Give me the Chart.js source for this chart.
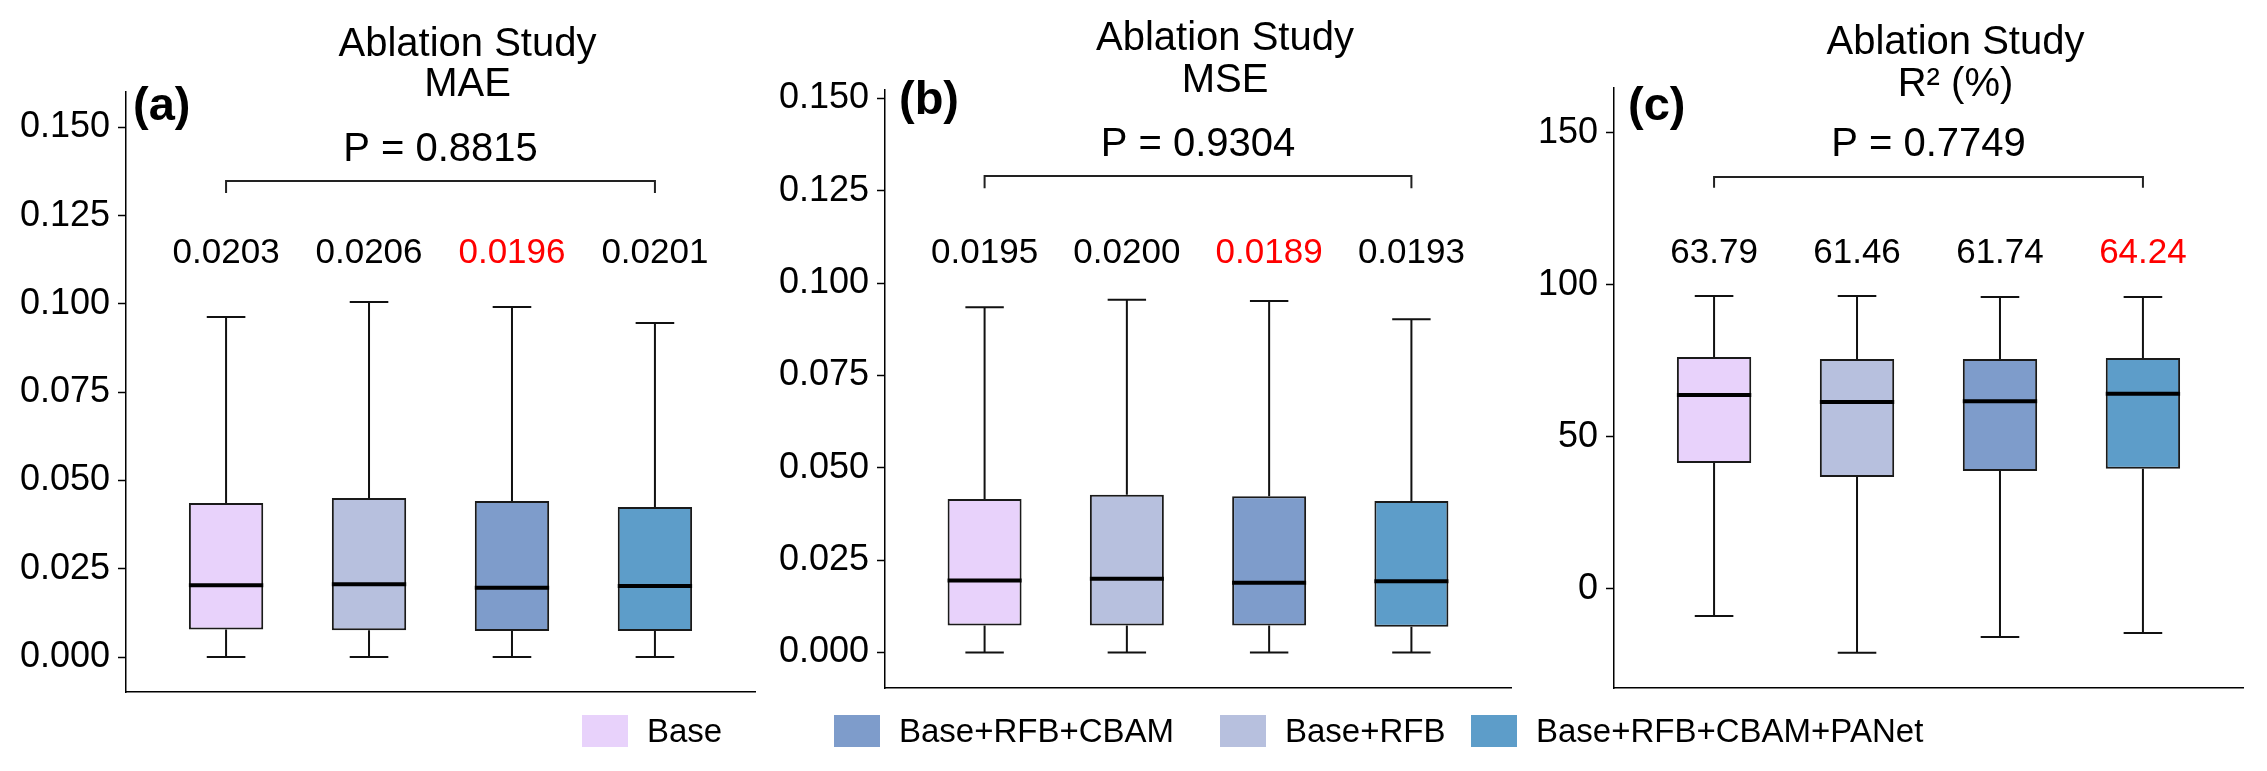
<!DOCTYPE html>
<html>
<head>
<meta charset="utf-8">
<script src="https://cdn.jsdelivr.net/npm/chart.js@4.4.1/dist/chart.umd.min.js"></script>
<style>
  body { margin: 0; background: #fff; }
  #wrap { position: relative; width: 2267px; height: 771px; overflow: hidden; font-family: "Liberation Sans", Arial, sans-serif; }
  canvas { position: absolute; top: 0; }
  .leg { position: absolute; top: 715px; display: flex; align-items: center; height: 32px; }
  .leg span.sw { display: inline-block; width: 46px; height: 32px; margin-right: 19px; }
  .leg span.tx { font-size: 33px; color: #000; }
</style>
</head>
<body>
<div id="wrap">
  <canvas id="chartA" width="760" height="771" style="left:0px"></canvas>
  <canvas id="chartB" width="760" height="771" style="left:760px"></canvas>
  <canvas id="chartC" width="747" height="771" style="left:1520px"></canvas>
</div>
<script>
const categories = ['Base', 'Base+RFB', 'Base+RFB+CBAM', 'Base+RFB+CBAM+PANet'];
const legendOrder = [0, 2, 1, 3];

// (a) MAE
const maeLow = [0, 0, 0, 0];
const maeQ1 = [0.0078, 0.0076, 0.0074, 0.0074];
const maeMedian = [0.0203, 0.0206, 0.0196, 0.0201];
const maeQ3 = [0.0436, 0.0450, 0.0442, 0.0425];
const maeHigh = [0.0963, 0.1005, 0.0991, 0.0946];
const maeTicks = [0, 0.025, 0.05, 0.075, 0.1, 0.125, 0.15];
const maeP = 'P = 0.8815';

// (b) MSE
const mseLow = [0, 0, 0, 0];
const mseQ1 = [0.0073, 0.0073, 0.0073, 0.0070];
const mseMedian = [0.0195, 0.0200, 0.0189, 0.0193];
const mseQ3 = [0.0416, 0.0427, 0.0423, 0.0410];
const mseHigh = [0.0935, 0.0955, 0.0952, 0.0902];
const mseTicks = [0, 0.025, 0.05, 0.075, 0.1, 0.125, 0.15];
const mseP = 'P = 0.9304';

// (c) R2 (%)
const r2Low = [-8.9, -21.0, -15.8, -14.5];
const r2Q1 = [41.4, 36.8, 38.8, 39.5];
const r2Median = [63.79, 61.46, 61.74, 64.24];
const r2Q3 = [76.3, 75.6, 75.6, 76.0];
const r2High = [96.4, 96.4, 96.0, 96.0];
const r2Ticks = [0, 50, 100, 150];
const r2P = 'P = 0.7749';

const boxColors = ['#E8D2FB', '#B7C0DE', '#7E9CCB', '#5D9DC9'];
const FONT = '"Liberation Sans", Arial, sans-serif';

const boxExtras = {
    id: 'boxExtras',
    afterDatasetsDraw(chart, args, opts) {
        const { ctx, scales: { x, y } } = chart;
        const p = opts.panel;
        ctx.save();
        ctx.lineCap = 'butt';
        p.median.forEach((med, i) => {
            const cx = x.getPixelForValue(i + 1);
            const capHalf = x.getPixelForValue(i + 1 + 0.135) - cx;
            const boxHalf = x.getPixelForValue(i + 1 + 0.26) - cx;
            // whiskers + caps
            ctx.strokeStyle = '#111';
            ctx.lineWidth = 2;
            ctx.beginPath();
            ctx.moveTo(cx, y.getPixelForValue(p.low[i]));
            ctx.lineTo(cx, y.getPixelForValue(p.q1[i]));
            ctx.moveTo(cx, y.getPixelForValue(p.q3[i]));
            ctx.lineTo(cx, y.getPixelForValue(p.high[i]));
            ctx.moveTo(cx - capHalf, y.getPixelForValue(p.low[i]));
            ctx.lineTo(cx + capHalf, y.getPixelForValue(p.low[i]));
            ctx.moveTo(cx - capHalf, y.getPixelForValue(p.high[i]));
            ctx.lineTo(cx + capHalf, y.getPixelForValue(p.high[i]));
            ctx.stroke();
            // median
            ctx.strokeStyle = '#000';
            ctx.lineWidth = 4;
            ctx.beginPath();
            ctx.moveTo(cx - boxHalf, y.getPixelForValue(med));
            ctx.lineTo(cx + boxHalf, y.getPixelForValue(med));
            ctx.stroke();
        });
        ctx.restore();
    },
    afterDraw(chart, args, opts) {
        const { ctx, chartArea, scales: { x, y } } = chart;
        const p = opts.panel;
        ctx.save();
        ctx.fillStyle = '#000';
        ctx.textAlign = 'center';
        ctx.textBaseline = 'middle';

        // title
        const tx = (chartArea.left + chartArea.right) / 2 + 27;
        ctx.font = '40px ' + FONT;
        ctx.fillText('Ablation Study', tx, p.titleY[0]);
        ctx.fillText(p.metric, tx, p.titleY[1]);

        // panel letter
        ctx.textAlign = 'left';
        ctx.font = 'bold 47px ' + FONT;
        ctx.fillText(p.letter, chartArea.left + p.letterDx, p.letterY);

        // significance bracket over all groups
        const x1 = x.getPixelForValue(1);
        const x4 = x.getPixelForValue(categories.length);
        const yb = y.getPixelForValue(p.bracketAt);
        const yd = y.getPixelForValue(p.bracketDrop);
        ctx.strokeStyle = '#222';
        ctx.lineWidth = 2;
        ctx.beginPath();
        ctx.moveTo(x1, yd);
        ctx.lineTo(x1, yb);
        ctx.lineTo(x4, yb);
        ctx.lineTo(x4, yd);
        ctx.stroke();
        ctx.textAlign = 'center';
        ctx.font = '40px ' + FONT;
        ctx.fillText(p.pText, (x1 + x4) / 2, y.getPixelForValue(p.pAt));

        // median value labels, best one in red
        const best = p.lowerBetter ? p.median.indexOf(Math.min(...p.median)) : p.median.indexOf(Math.max(...p.median));
        ctx.font = '35px ' + FONT;
        p.median.forEach((m, i) => {
            ctx.fillStyle = i === best ? '#FF0000' : '#000';
            ctx.fillText(m.toFixed(p.digits), x.getPixelForValue(i + 1), y.getPixelForValue(p.labelAt));
        });
        ctx.restore();
    }
};

function makePanel(id, p) {
    const ctx = document.getElementById(id).getContext('2d');
    return new Chart(ctx, {
        type: 'bar',
        data: {
            datasets: [{
                data: categories.map((c, i) => ({ x: i + 1, y: [p.q1[i], p.q3[i]] })),
                backgroundColor: boxColors,
                borderColor: '#1a1a1a',
                borderWidth: 2,
                borderSkipped: false,
                barPercentage: 0.52,
                categoryPercentage: 1
            }]
        },
        options: {
            responsive: false,
            animation: false,
            devicePixelRatio: 1,
            layout: { padding: { top: p.top, bottom: 771 - p.bottom, left: 0, right: p.padRight } },
            plugins: {
                legend: { display: false },
                tooltip: { enabled: false },
                boxExtras: { panel: p }
            },
            scales: {
                x: {
                    type: 'linear',
                    offset: false,
                    min: 0.3,
                    max: categories.length + 0.7,
                    afterBuildTicks: s => { s.ticks = categories.map((c, i) => ({ value: i + 1 })); },
                    afterFit: s => { s.height = 0; },
                    ticks: { display: false },
                    grid: { display: false },
                    border: { display: true, color: '#000', width: 1.5 }
                },
                y: {
                    min: p.yMin,
                    max: p.yMax,
                    afterBuildTicks: s => { s.ticks = p.ticks.map(v => ({ value: v })); },
                    afterFit: s => { s.width = p.axisWidth; },
                    ticks: {
                        color: '#000',
                        padding: 8,
                        font: { family: FONT, size: 36 },
                        callback: v => v.toFixed(p.tickDigits)
                    },
                    grid: { drawOnChartArea: false, color: '#000', tickLength: 8, tickWidth: 1.5 },
                    border: { display: true, color: '#000', width: 1.5 }
                }
            }
        },
        plugins: [boxExtras]
    });
}

makePanel('chartA', {
    low: maeLow, q1: maeQ1, median: maeMedian, q3: maeQ3, high: maeHigh, ticks: maeTicks,
    pText: maeP, metric: 'MAE', letter: '(a)', lowerBetter: true, digits: 4, tickDigits: 3,
    yMin: -0.0099, yMax: 0.16, top: 92, bottom: 692, axisWidth: 126, padRight: 5,
    titleY: [45, 85], letterDx: 7, letterY: 107,
    pAt: 0.1435, bracketAt: 0.1348, bracketDrop: 0.1314, labelAt: 0.1142
});

makePanel('chartB', {
    low: mseLow, q1: mseQ1, median: mseMedian, q3: mseQ3, high: mseHigh, ticks: mseTicks,
    pText: mseP, metric: 'MSE', letter: '(b)', lowerBetter: true, digits: 4, tickDigits: 3,
    yMin: -0.0096, yMax: 0.1523, top: 90, bottom: 688, axisWidth: 125, padRight: 9,
    titleY: [39, 81], letterDx: 14, letterY: 101,
    pAt: 0.1374, bracketAt: 0.1290, bracketDrop: 0.1257, labelAt: 0.1081
});

makePanel('chartC', {
    low: r2Low, q1: r2Q1, median: r2Median, q3: r2Q3, high: r2High, ticks: r2Ticks,
    pText: r2P, metric: 'R² (%)', letter: '(c)', lowerBetter: false, digits: 2, tickDigits: 0,
    yMin: -32.6, yMax: 164.8, top: 88, bottom: 688, axisWidth: 94, padRight: 24,
    titleY: [43, 85], letterDx: 14, letterY: 107,
    pAt: 146, bracketAt: 135.5, bracketDrop: 132, labelAt: 110.5
});

// shared legend below the panels
const legendLeft = [582, 834, 1220, 1471];
const wrap = document.getElementById('wrap');
legendOrder.forEach((ci, k) => {
    const item = document.createElement('div');
    item.className = 'leg';
    item.style.left = legendLeft[k] + 'px';
    item.innerHTML = '<span class="sw" style="background:' + boxColors[ci] + '"></span><span class="tx">' + categories[ci] + '</span>';
    wrap.appendChild(item);
});
</script>
</body>
</html>
